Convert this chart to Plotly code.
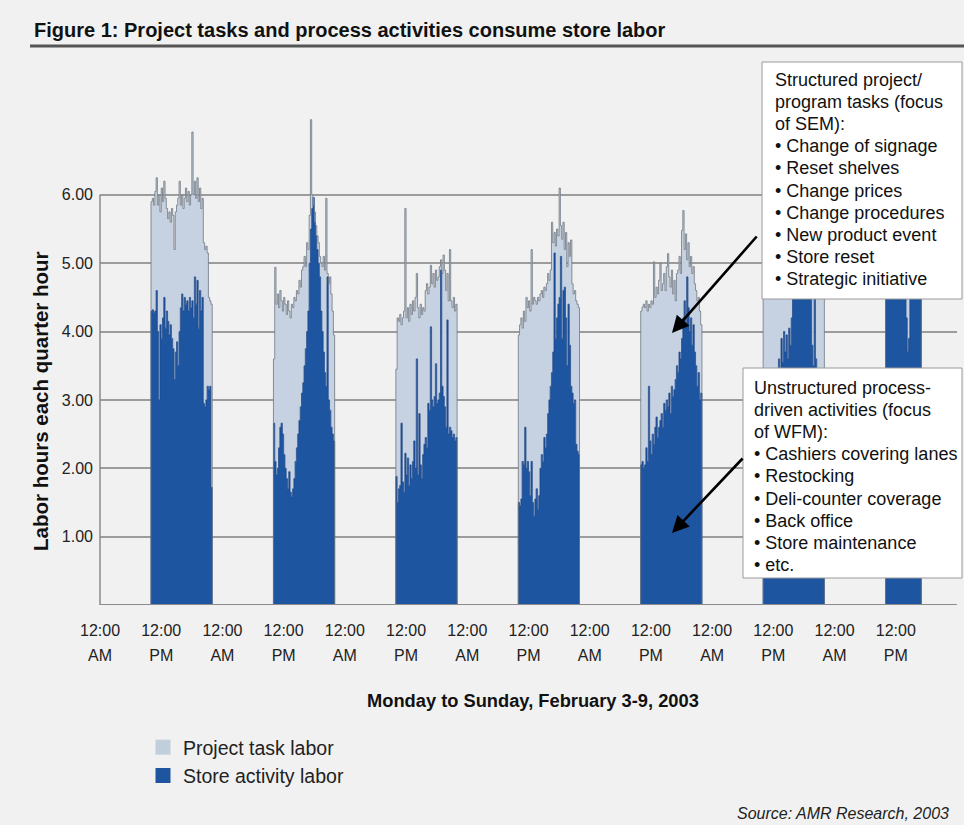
import plotly.graph_objects as go

# ---------------- data (quarter-hour values, store opens 10:00) ----------------
days = ["Mon", "Tue", "Wed", "Thu", "Fri", "Sat", "Sun"]
open_hour = 10

mon_total = [5.90, 5.95, 5.85, 6.05, 6.25, 5.85, 6.00, 5.75, 6.10, 5.90, 6.20, 5.95,
             5.80, 5.65, 5.75, 5.60, 5.80, 5.70, 5.20, 5.75, 5.85, 5.95, 6.20, 5.85,
             6.00, 5.80, 5.95, 6.10, 5.90, 6.05, 5.85, 6.00, 6.92, 6.00, 6.20, 5.95,
             6.25, 5.90, 6.10, 5.80, 5.95, 5.30, 5.20, 5.25, 5.15, 4.50, 4.45, 4.40]
mon_store = [4.30, 4.32, 4.28, 4.30, 4.60, 4.00, 3.00, 4.10, 3.90, 4.20, 4.50, 4.05,
             4.30, 4.15, 3.95, 4.10, 3.90, 3.75, 3.30, 3.70, 3.85, 3.50, 4.00, 4.35,
             4.55, 4.30, 4.50, 4.40, 4.45, 4.30, 4.50, 4.35, 4.45, 4.20, 4.80, 4.40,
             4.75, 4.05, 4.60, 4.30, 4.50, 2.95, 2.90, 3.00, 3.20, 3.15, 3.20, 1.72]

tue_total = [3.60, 4.94, 4.40, 4.55, 4.35, 4.60, 4.45, 4.30, 4.50, 4.40, 4.25, 4.45,
             4.30, 4.20, 4.40, 4.35, 4.50, 4.45, 4.60, 4.55, 4.75, 4.65, 4.90, 4.95,
             5.10, 4.95, 5.30, 5.20, 5.70, 7.10, 6.00, 5.85, 5.75, 5.55, 5.40, 5.30,
             5.10, 5.00, 4.95, 5.10, 4.90, 5.95, 4.85, 4.70, 4.80, 4.55, 4.30, 3.95]
tue_store = [2.66, 2.10, 1.90, 2.00, 2.30, 2.60, 2.66, 2.50, 2.20, 2.00, 1.85, 1.70,
             1.95, 1.65, 1.58, 1.70, 1.85, 2.10, 2.30, 2.50, 2.70, 2.90, 3.10, 3.25,
             3.50, 3.75, 4.00, 4.30, 5.00, 5.50, 5.80, 5.96, 5.60, 5.40, 5.20, 5.00,
             4.80, 4.30, 4.00, 3.70, 3.40, 3.20, 4.80, 3.00, 2.85, 2.60, 2.50, 2.40]

wed_total = [3.45, 4.20, 4.15, 4.25, 4.10, 4.20, 4.30, 5.80, 4.20, 4.35, 4.15, 4.40,
             4.25, 4.45, 4.30, 4.50, 4.85, 4.35, 4.20, 4.40, 4.25, 4.35, 4.30, 4.60,
             4.70, 4.55, 4.65, 4.97, 4.70, 4.85, 4.65, 4.90, 4.75, 4.80, 4.95, 5.05,
             4.85, 5.12, 4.90, 4.60, 4.85, 4.45, 5.20, 4.45, 4.35, 4.50, 4.30, 4.40]
wed_store = [1.88, 1.50, 1.70, 1.75, 2.66, 1.80, 1.65, 2.22, 1.90, 2.15, 1.75, 2.05,
             1.85, 2.10, 2.40, 2.00, 3.60, 1.90, 2.80, 2.05, 1.85, 2.20, 2.35, 2.45,
             2.30, 2.95, 2.85, 4.07, 3.00, 2.90, 3.05, 3.53, 2.95, 3.00, 3.10, 4.90,
             3.20, 3.05, 2.90, 2.60, 4.17, 2.50, 2.60, 2.55, 2.45, 2.50, 2.40, 2.45]

thu_total = [3.95, 4.10, 4.20, 4.05, 4.30, 4.15, 4.50, 4.35, 4.45, 4.30, 5.20, 4.40,
             4.50, 4.45, 4.40, 4.50, 4.45, 4.55, 4.60, 4.50, 4.65, 4.60, 4.70, 4.85,
             4.75, 4.90, 5.60, 5.30, 5.45, 5.25, 5.50, 5.40, 6.10, 5.55, 5.35, 5.60,
             5.20, 5.45, 4.95, 5.30, 5.10, 5.34, 4.70, 4.55, 4.60, 4.45, 4.40, 4.35]
thu_store = [1.50, 1.45, 1.55, 2.10, 2.05, 2.60, 2.00, 2.10, 1.95, 1.60, 2.10, 1.50,
             1.30, 1.55, 1.70, 1.40, 1.60, 2.00, 2.20, 2.10, 2.45, 2.30, 2.50, 2.80,
             3.00, 3.20, 3.40, 3.70, 5.15, 3.90, 4.20, 4.40, 4.50, 5.10, 3.90, 4.60,
             4.65, 4.20, 3.50, 4.40, 3.80, 3.20, 3.10, 2.95, 3.00, 2.35, 2.25, 2.20]

fri_total = [4.30, 4.36, 4.40, 4.35, 4.45, 4.30, 4.40, 4.35, 4.45, 4.40, 5.02, 4.50,
             4.65, 4.55, 4.75, 5.00, 4.60, 4.70, 4.85, 4.60, 4.95, 5.14, 4.80, 4.65,
             4.90, 4.55, 4.75, 4.45, 4.85, 4.90, 5.10, 4.85, 5.48, 5.77, 5.20, 5.43,
             5.05, 5.30, 4.95, 5.10, 4.85, 4.95, 4.70, 4.60, 4.45, 4.50, 4.30, 4.10]
fri_store = [2.05, 2.10, 2.00, 2.05, 2.30, 2.10, 3.20, 2.40, 2.20, 2.50, 2.35, 2.60,
             2.75, 2.45, 2.60, 2.70, 2.80, 2.60, 2.95, 2.85, 3.00, 2.90, 3.10, 2.80,
             3.20, 3.05, 3.15, 3.30, 3.50, 3.40, 3.70, 3.60, 3.90, 4.20, 4.45, 4.10,
             4.80, 4.35, 4.00, 4.20, 3.80, 4.10, 3.70, 3.50, 3.20, 3.40, 3.00, 3.10]

sat_total = [5.10, 5.25, 5.05, 5.30, 5.20, 5.40, 5.15, 5.35, 5.50, 5.30, 5.45, 5.60,
             5.40, 5.55, 5.70, 5.50, 5.65, 5.80, 5.60, 5.75, 5.90, 5.70, 5.85, 6.00,
             5.80, 5.95, 5.75, 5.90, 5.70, 5.85, 5.60, 5.75, 5.55, 5.70, 5.50, 5.60,
             5.40, 5.55, 5.30, 5.45, 5.20, 5.35, 5.10, 5.25, 5.00, 5.15, 4.90, 4.80]
sat_store = [3.00, 3.20, 2.90, 3.10, 3.30, 3.05, 3.25, 3.40, 3.15, 3.35, 3.20, 3.45,
             3.60, 3.40, 3.90, 3.55, 4.00, 3.70, 3.95, 3.60, 4.05, 3.80, 4.20, 4.60,
             5.00, 5.20, 5.40, 5.30, 5.55, 5.40, 5.50, 5.35, 5.25, 5.10, 5.00, 4.90,
             4.80, 4.70, 3.80, 3.50, 4.60, 3.60, 3.40, 3.30, 3.20, 3.10, 3.00, 2.90]

sun_total = [5.40, 5.60, 5.50, 5.75, 5.65, 5.90, 5.70, 5.85, 6.00, 5.80, 5.95, 5.75,
             5.90, 5.70, 5.85, 5.60, 5.75, 5.55, 5.70, 5.50, 5.65, 5.45, 5.60, 5.40,
             5.55, 5.35, 5.50, 5.30]
sun_store = [4.80, 5.00, 4.90, 5.10, 5.00, 5.20, 5.05, 5.25, 5.15, 5.30, 5.10, 5.25,
             5.00, 5.15, 4.95, 4.70, 4.20, 3.70, 3.90, 4.60, 5.00, 4.90, 5.10, 4.95,
             5.05, 4.85, 5.00, 4.80]

totals = [mon_total, tue_total, wed_total, thu_total, fri_total, sat_total, sun_total]
stores = [mon_store, tue_store, wed_store, thu_store, fri_store, sat_store, sun_store]

tick_hours = [0, 12, 24, 36, 48, 60, 72, 84, 96, 108, 120, 132, 144, 156]
tick_top = ["12:00"] * 14
tick_bottom = ["AM", "PM", "AM", "PM", "AM", "PM", "AM", "PM", "AM", "PM", "AM", "PM", "AM", "PM"]
y_ticks = [1, 2, 3, 4, 5, 6]
y_ticktext = ["1.00", "2.00", "3.00", "4.00", "5.00", "6.00"]

box1_lines = ["Structured project/", "program tasks (focus", "of SEM):",
              "• Change of signage", "• Reset shelves", "• Change prices",
              "• Change procedures", "• New product event", "• Store reset",
              "• Strategic initiative"]
box2_lines = ["Unstructured process-", "driven activities (focus", "of WFM):",
              "• Cashiers covering lanes", "• Restocking", "• Deli-counter coverage",
              "• Back office", "• Store maintenance", "• etc."]

# ---------------- build week series (closed hours = 0) ----------------
xs, ys_store, ys_total = [0.0], [0.0], [0.0]
for d, (tot, sto) in enumerate(zip(totals, stores)):
    for k, (t, s) in enumerate(zip(tot, sto)):
        xs.append(24 * d + open_hour + 0.25 * k)
        ys_store.append(s)
        ys_total.append(t)
    xs.append(24 * d + open_hour + 0.25 * len(tot))
    ys_store.append(0.0)
    ys_total.append(0.0)
xs.append(168.0)
ys_store.append(0.0)
ys_total.append(0.0)

BLUE = "#1e55a0"
LIGHT = "#c6d2e1"
BG = "#f1f1f1"
FONT = "Liberation Sans, Arial, sans-serif"

fig = go.Figure()
fig.add_trace(go.Scatter(
    x=xs, y=ys_store, name="Store activity labor", mode="lines",
    line=dict(shape="hv", color="#1a4588", width=0.8),
    fill="tozeroy", fillcolor=BLUE, hoverinfo="skip", showlegend=False))
fig.add_trace(go.Scatter(
    x=xs, y=ys_total, name="Project task labor", mode="lines",
    line=dict(shape="hv", color="#6e7782", width=0.8),
    fill="tonexty", fillcolor=LIGHT, hoverinfo="skip", showlegend=False))
# legend swatches (square keys as in the original)
fig.add_trace(go.Scatter(x=[None], y=[None], mode="markers", name="Project task labor",
                         marker=dict(symbol="square", size=15, color="#c1cedc")))
fig.add_trace(go.Scatter(x=[None], y=[None], mode="markers", name="Store activity labor",
                         marker=dict(symbol="square", size=15, color=BLUE)))
# carrier for the second (AM/PM) tick row
fig.add_trace(go.Scatter(x=[0, 168], y=[0, 0], xaxis="x2", mode="lines",
                         line=dict(width=0), showlegend=False, hoverinfo="skip"))

PL, PR, PT, PB = 100, 957, 106, 605
W, H = 964, 825


def px(v):
    return (v - PL) / (PR - PL)


def py(v):
    return (PB - v) / (PB - PT)


annotations = []
shapes = []

# title and rule
annotations.append(dict(x=px(32), y=py(30), xref="paper", yref="paper", xanchor="left",
                        yanchor="middle", showarrow=False,
                        text="<b>Figure 1: Project tasks and process activities consume store labor</b>",
                        font=dict(size=20, color="#111111", family=FONT)))
shapes.append(dict(type="line", xref="paper", yref="paper", x0=px(30), x1=px(964),
                   y0=py(46), y1=py(46), line=dict(color="#555555", width=3)))

# axis lines
shapes.append(dict(type="line", xref="paper", yref="y", x0=0, x1=0, y0=0, y1=6,
                   line=dict(color="#8a8a8a", width=1.5), layer="above"))
shapes.append(dict(type="line", xref="paper", yref="y", x0=0, x1=px(955), y0=0, y1=0,
                   line=dict(color="#8a8a8a", width=2), layer="above"))

# axis titles
annotations.append(dict(x=px(40), y=py(401), xref="paper", yref="paper", textangle=-90,
                        xanchor="center", yanchor="middle",
                        showarrow=False, text="<b>Labor hours each quarter hour</b>",
                        font=dict(size=20.5, color="#111111", family=FONT)))
annotations.append(dict(x=px(533), y=py(700), xref="paper", yref="paper", showarrow=False,
                        xanchor="center", yanchor="middle",
                        text="<b>Monday to Sunday, February 3-9, 2003</b>",
                        font=dict(size=18.3, color="#111111", family=FONT)))
annotations.append(dict(x=px(951), y=py(813), xref="paper", yref="paper", xanchor="right",
                        yanchor="middle",
                        showarrow=False, text="<i>Source: AMR Research, 2003</i>",
                        font=dict(size=16, color="#222222", family=FONT)))

# arrows (drawn before boxes)
annotations.append(dict(x=px(672), y=py(333), xref="paper", yref="paper", text="",
                        showarrow=True, ax=86, ay=-98, arrowhead=2, arrowsize=1.3,
                        arrowwidth=2.6, arrowcolor="#000000"))
annotations.append(dict(x=px(672), y=py(533), xref="paper", yref="paper", text="",
                        showarrow=True, ax=72, ay=-76, arrowhead=2, arrowsize=1.3,
                        arrowwidth=2.6, arrowcolor="#000000"))

# callout boxes
shapes.append(dict(type="rect", xref="paper", yref="paper", x0=px(762), x1=px(962),
                   y0=py(62), y1=py(299), fillcolor="#ffffff",
                   line=dict(color="#9a9a9a", width=1), layer="above"))
shapes.append(dict(type="rect", xref="paper", yref="paper", x0=px(743), x1=px(962),
                   y0=py(368), y1=py(578), fillcolor="#ffffff",
                   line=dict(color="#9a9a9a", width=1), layer="above"))
for i, t in enumerate(box1_lines):
    annotations.append(dict(x=px(773), y=py(80 + 22.1 * i), xref="paper", yref="paper",
                            xanchor="left", yanchor="middle", showarrow=False, text=t,
                            font=dict(size=18, color="#111111", family=FONT)))
for i, t in enumerate(box2_lines):
    annotations.append(dict(x=px(752), y=py(388 + 22.1 * i), xref="paper", yref="paper",
                            xanchor="left", yanchor="middle", showarrow=False, text=t,
                            font=dict(size=18, color="#111111", family=FONT)))

fig.update_layout(
    width=W, height=H, autosize=False,
    margin=dict(l=PL, r=W - PR, t=PT, b=H - PB, pad=0),
    paper_bgcolor=BG, plot_bgcolor=BG,
    font=dict(family=FONT, color="#222222"),
    showlegend=True,
    legend=dict(x=px(143), y=py(728), xanchor="left", yanchor="top",
                traceorder="normal", bgcolor="rgba(0,0,0,0)",
                font=dict(size=19.5, color="#222222", family=FONT)),
    xaxis=dict(range=[0, 168], tickmode="array", tickvals=tick_hours, ticktext=tick_top,
               showgrid=False, zeroline=False, showline=False, ticks="",
               ticklabelstandoff=14, tickfont=dict(size=16, color="#222222")),
    xaxis2=dict(range=[0, 168], overlaying="x", anchor="y", side="bottom",
                tickmode="array", tickvals=tick_hours, ticktext=tick_bottom,
                showgrid=False, zeroline=False, showline=False, ticks="",
                ticklabelstandoff=39, tickfont=dict(size=16, color="#222222")),
    yaxis=dict(range=[0, 7.3], tickmode="array", tickvals=y_ticks, ticktext=y_ticktext,
               showgrid=True, gridcolor="#9c9c9c", gridwidth=1.5, zeroline=False,
               showline=False, ticks="", ticklabelstandoff=6,
               tickfont=dict(size=16, color="#222222")),
    annotations=annotations,
    shapes=shapes,
)

fig.write_html("out.html")
